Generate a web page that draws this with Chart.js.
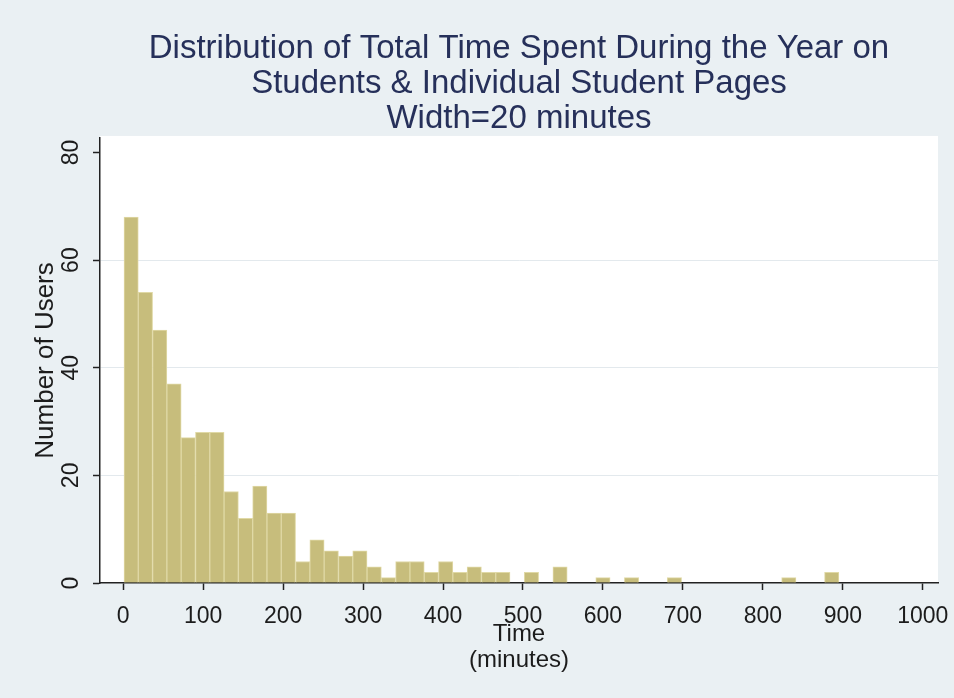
<!DOCTYPE html>
<html>
<head>
<meta charset="utf-8">
<script src="https://cdn.jsdelivr.net/npm/chart.js@4.4.0/dist/chart.umd.min.js"></script>
<style>
  html, body { margin: 0; padding: 0; background: #eaf0f3; }
  canvas { display: block; }
</style>
</head>
<body>
<canvas id="chart" width="954" height="698"></canvas>
<script>
// histogram: bins of ~17.9 minutes starting at 1 minute, counts
const binStart = 1;
const binWidth = 17.88;
const counts = [68, 54, 47, 37, 27, 28, 28, 17, 12, 18,
                13, 13, 4, 8, 6, 5, 6, 3, 1, 4,
                4, 2, 4, 2, 3, 2, 2, 0, 2, 0,
                3, 0, 0, 1, 0, 1, 0, 0, 1, 0,
                0, 0, 0, 0, 0, 0, 1, 0, 0, 2];
const xTicks = [0, 100, 200, 300, 400, 500, 600, 700, 800, 900, 1000];
const yTicks = [0, 20, 40, 60, 80];
const titleLines = ['Distribution of Total Time Spent During the Year on',
                    'Students & Individual Student Pages',
                    'Width=20 minutes'];
const xTitle = ['Time', '(minutes)'];
const yTitle = 'Number of Users';

const FONT = "'Liberation Sans', Arial, sans-serif";
const INK = '#1c1c1c';

// bin centres for the bars (empty bins are just left out)
const points = counts
  .map((c, i) => ({ x: binStart + (i + 0.5) * binWidth, y: c }))
  .filter(p => p.y > 0);

const plotBg = {
  id: 'plotBg',
  beforeDraw(chart) {
    const { ctx, chartArea: a } = chart;
    ctx.save();
    ctx.fillStyle = '#eaf0f3';
    ctx.fillRect(0, 0, chart.width, chart.height);
    ctx.fillStyle = '#ffffff';
    ctx.fillRect(a.left, a.top - 2, a.right - a.left, a.bottom - a.top + 2);
    ctx.restore();
  },
  afterDraw(chart) {
    // y tick labels, turned like in stata
    const { ctx } = chart;
    const ys = chart.scales.y;
    ctx.save();
    ctx.fillStyle = INK;
    ctx.font = '23px ' + FONT;
    ctx.textAlign = 'center';
    ctx.textBaseline = 'middle';
    yTicks.forEach(v => {
      ctx.save();
      ctx.translate(72, ys.getPixelForValue(v));
      ctx.rotate(-Math.PI / 2);
      ctx.fillText(String(v), 0, 0);
      ctx.restore();
    });
    ctx.restore();
  }
};

const ctx = document.getElementById('chart').getContext('2d');
new Chart(ctx, {
  type: 'bar',
  data: {
    datasets: [{
      data: points,
      backgroundColor: '#c7bd7c',
      borderColor: '#e0d9a6',
      borderWidth: 1,
      barPercentage: 1,
      categoryPercentage: 1
    }]
  },
  options: {
    responsive: false,
    animation: false,
    layout: { padding: { left: 0, right: 16, top: 0, bottom: 0 } },
    plugins: {
      legend: { display: false },
      tooltip: { enabled: false },
      title: {
        display: true,
        fullSize: false,
        text: titleLines,
        color: '#26305a',
        font: { family: FONT, size: 33, weight: 'normal', lineHeight: 1.05 },
        padding: { top: 32, bottom: 2 }
      }
    },
    scales: {
      x: {
        type: 'linear',
        min: -29,
        max: 1019,
        offset: false,
        afterBuildTicks: s => { s.ticks = xTicks.map(v => ({ value: v })); },
        afterFit: s => { s.height = 115; s.paddingRight = 0; s.paddingLeft = 0; },
        grid: { offset: false, drawOnChartArea: false, drawTicks: true, tickLength: 7, tickColor: '#222', tickWidth: 1.5 },
        border: { display: true, color: '#222', width: 1.5 },
        ticks: {
          color: INK,
          font: { family: FONT, size: 23 },
          padding: 13,
          maxRotation: 0,
          autoSkip: false,
          callback: v => String(v)
        },
        title: {
          display: true,
          text: xTitle,
          color: INK,
          font: { family: FONT, size: 24, lineHeight: 1.08 },
          padding: { top: 0, bottom: 25 }
        }
      },
      y: {
        min: 0,
        max: 82.7,
        afterBuildTicks: s => { s.ticks = yTicks.map(v => ({ value: v })); },
        afterFit: s => { s.width = 100; },
        grid: {
          color: c => (c.tick && (c.tick.value === 0 || c.tick.value === 80) ? 'rgba(0,0,0,0)' : '#e3e9ed'),
          lineWidth: 1,
          drawTicks: true,
          tickLength: 7,
          tickColor: '#222',
          tickWidth: 1.5
        },
        border: { display: true, color: '#222', width: 1.5 },
        ticks: { display: false },
        title: {
          display: true,
          text: yTitle,
          color: INK,
          font: { family: FONT, size: 26, lineHeight: 1.2 },
          padding: { top: 30, bottom: 0 }
        }
      }
    }
  },
  plugins: [plotBg]
});
</script>
</body>
</html>
